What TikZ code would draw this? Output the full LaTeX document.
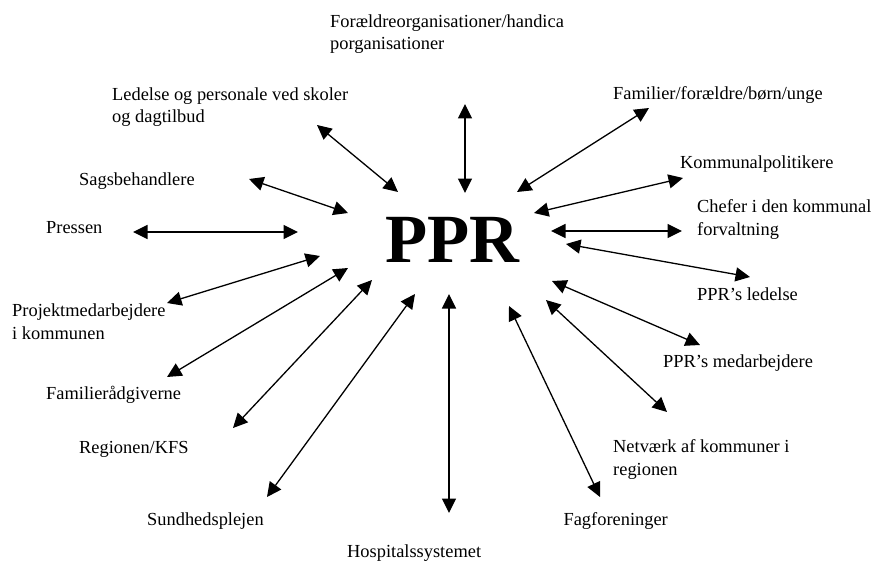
\documentclass[tikz,border=0pt]{standalone}
\usepackage{fontspec}
\setmainfont{Liberation Serif}
\usetikzlibrary{arrows.meta}
\begin{document}
\begin{tikzpicture}[x=1pt,y=-1pt,
  lbl/.style={anchor=base west,inner sep=0pt,align=left,font=\fontsize{18.4}{22.5}\selectfont},
  rel/.style={{Triangle[length=14.5pt,width=14pt]}-{Triangle[length=14.5pt,width=14pt]},line width=1.3pt}]
\useasboundingbox (0,0) rectangle (874,564);
\node[inner sep=0pt,anchor=base,font=\fontsize{69}{70}\bfseries\selectfont] (ppr) at (452.5,262) {PPR};
% labels (base = baseline of last line)
\node[lbl] (forael) at (330,50) {Forældreorganisationer/handica\\porganisationer};
\node[lbl] (ledelse) at (112,123) {Ledelse og personale ved skoler\\og dagtilbud};
\node[lbl] (familier) at (613,100) {Familier/forældre/børn/unge};
\node[lbl] (kompol) at (680,168) {Kommunalpolitikere};
\node[lbl] (chefer) at (697,235) {Chefer i den kommunal\\forvaltning};
\node[lbl] (pprled) at (697,300) {PPR’s ledelse};
\node[lbl] (pprmed) at (663,367) {PPR’s medarbejdere};
\node[lbl] (netv) at (613,475) {Netværk af kommuner i\\regionen};
\node[lbl,anchor=base east] (fagf) at (668,525) {Fagforeninger};
\node[lbl] (hosp) at (347,557) {Hospitalssystemet};
\node[lbl] (sundh) at (147,525) {Sundhedsplejen};
\node[lbl] (region) at (79,453) {Regionen/KFS};
\node[lbl] (famrad) at (46,399) {Familierådgiverne};
\node[lbl] (projekt) at (12,339) {Projektmedarbejdere\\i kommunen};
\node[lbl] (pressen) at (46,233) {Pressen};
\node[lbl] (sags) at (79,185) {Sagsbehandlere};
% arrow ends
\coordinate (a1o) at (317,125);  \coordinate (a1i) at (398,192);
\coordinate (a2o) at (465,104);  \coordinate (a2i) at (465,193);
\coordinate (a3o) at (649,108);  \coordinate (a3i) at (517,192);
\coordinate (a4o) at (683,178);  \coordinate (a4i) at (534,213);
\coordinate (a5o) at (682,231);  \coordinate (a5i) at (551,231);
\coordinate (a6o) at (750,277);  \coordinate (a6i) at (566,244);
\coordinate (a7o) at (700,345);  \coordinate (a7i) at (552,281);
\coordinate (a8o) at (667,412);  \coordinate (a8i) at (546,300);
\coordinate (a9o) at (600,497);  \coordinate (a9i) at (509,306);
\coordinate (a10o) at (449,513); \coordinate (a10i) at (449,294);
\coordinate (a11o) at (267,497); \coordinate (a11i) at (415,294);
\coordinate (a12o) at (233,428); \coordinate (a12i) at (372,280);
\coordinate (a13o) at (167,377); \coordinate (a13i) at (348,268);
\coordinate (a14o) at (167,303); \coordinate (a14i) at (320,256);
\coordinate (a15o) at (133,232); \coordinate (a15i) at (298,232);
\coordinate (a16o) at (249,179); \coordinate (a16i) at (348,213);
\foreach \i in {1,...,16} {\draw[rel] (a\i o) -- (a\i i);}
\end{tikzpicture}
\end{document}
